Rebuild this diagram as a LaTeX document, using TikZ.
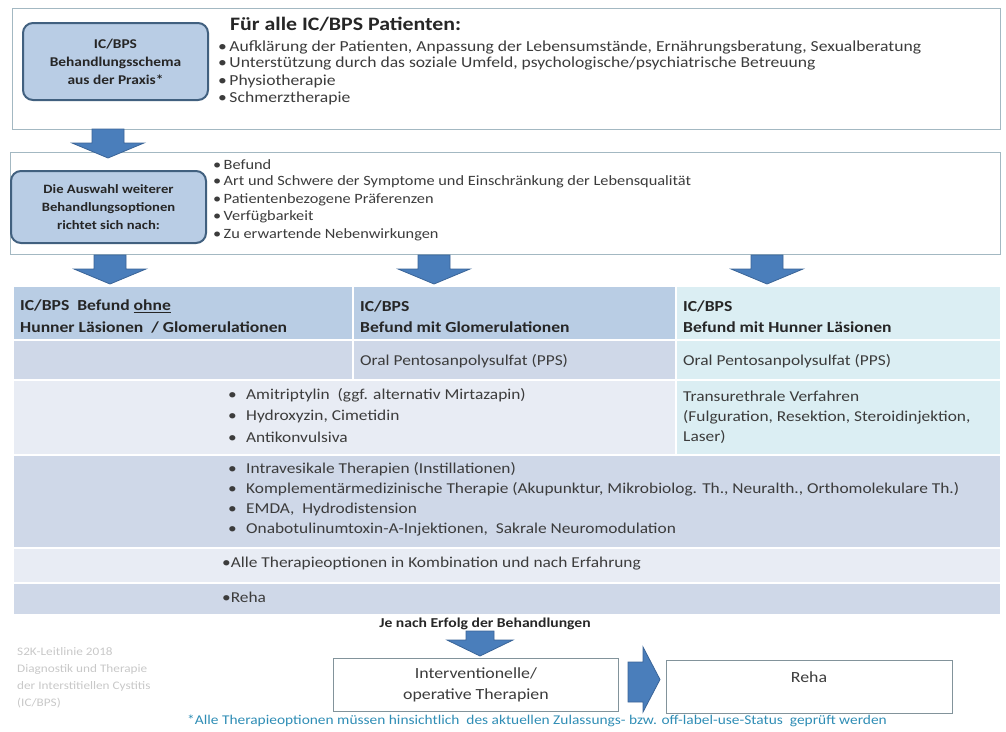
\documentclass[tikz,border=0pt]{standalone}
\usepackage{fontspec}
\setmainfont{Carlito}[FakeStretch=1.15]
\definecolor{frame}{HTML}{A3B8C2}
\definecolor{rbfill}{HTML}{B9CDE5}
\definecolor{rbdraw}{HTML}{41607F}
\definecolor{arrowfill}{HTML}{4A7EBB}
\definecolor{arrowdraw}{HTML}{3A6497}
\definecolor{hdrA}{HTML}{B9CDE4}
\definecolor{hdrB}{HTML}{DBEEF3}
\definecolor{rowD}{HTML}{CFD8E8}
\definecolor{rowL}{HTML}{E8ECF4}
\definecolor{txt}{HTML}{3C3C3C}
\definecolor{foot}{HTML}{2F8DB5}
\definecolor{wm}{HTML}{C8C8C8}
\newcommand{\fsz}[1]{\fontsize{#1}{#1}\selectfont}
\tikzset{
  outerbox/.style={draw=frame, line width=1.2pt, fill=white, inner sep=0pt, anchor=north west},
  roundbox/.style={draw=rbdraw, line width=2pt, fill=rbfill, rounded corners=10pt, inner sep=0pt, anchor=north west},
  plainbox/.style={draw=frame!80!black, line width=0.8pt, fill=white, inner sep=0pt, anchor=north west},
  cell/.style={draw=white, line width=1.5pt, inner sep=0pt, anchor=north west},
  lbl/.style={anchor=west, inner sep=0pt, text=txt, font=\fsz{15.1}},
  lblT/.style={lbl, font=\fsz{15.3}},
  lblA/.style={lbl, font=\fsz{14.2}},
  boldlbl/.style={lbl, font=\fsz{15.3}\bfseries, text=black!85},
  rbtext/.style={align=center, inner sep=0pt, text=black!85},
  blockarrow/.style={fill=arrowfill, draw=arrowdraw, line width=0.8pt},
}
\newcommand{\bl}{\makebox[18pt][l]{\textbullet}}
\begin{document}
\begin{tikzpicture}[x=1pt,y=-1pt]
\useasboundingbox (0,0) rectangle (1006,731);
% ---------- box 1
\node[outerbox, minimum width=988pt, minimum height=121pt] (box1) at (12,8) {};
\node[roundbox, minimum width=185pt, minimum height=77pt] (rb1) at (22,22) {};
\node[rbtext, font=\fontsize{13.4}{18}\selectfont\bfseries] (rb1t) at (rb1.center) {IC/BPS\\Behandlungsschema\\aus der Praxis*};
\node[anchor=west, inner sep=0pt, font=\fsz{19}\bfseries, text=black!85] (t1) at (230,24) {Für alle IC/BPS Patienten:};
\node[lblT] (b11) at (218,47) {\textbullet\,Aufklärung der Patienten, Anpassung der Lebensumstände, Ernährungsberatung, Sexualberatung};
\node[lblT] (b12) at (218,64) {\textbullet\,Unterstützung durch das soziale Umfeld, psychologische/psychiatrische Betreuung};
\node[lblT] (b13) at (218,81) {\textbullet\,Physiotherapie};
\node[lblT] (b14) at (218,98) {\textbullet\,Schmerztherapie};
% ---------- box 2
\node[outerbox, minimum width=990pt, minimum height=102pt] (box2) at (10,152) {};
\node[roundbox, minimum width=195pt, minimum height=72pt] (rb2) at (10,170) {};
\node[rbtext, font=\fontsize{12.7}{18}\selectfont\bfseries] (rb2t) at (rb2.center) {Die Auswahl weiterer\\Behandlungsoptionen\\richtet sich nach:};
\node[lblA] (b21) at (213,165) {\textbullet\,Befund};
\node[lblA] (b22) at (213,182) {\textbullet\,Art und Schwere der Symptome und Einschränkung der Lebensqualität};
\node[lblA] (b23) at (213,200) {\textbullet\,Patientenbezogene Präferenzen};
\node[lblA] (b24) at (213,217) {\textbullet\,Verfügbarkeit};
\node[lblA] (b25) at (213,235) {\textbullet\,Zu erwartende Nebenwirkungen};
% ---------- arrows
\foreach \cx/\ty in {108/129, 110/255, 434/255, 767/255}{
  \draw[blockarrow] (\cx-16,\ty) -- (\cx+16,\ty) -- (\cx+16,\ty+14) -- (\cx+36,\ty+14)
     -- (\cx,\ty+29) -- (\cx-36,\ty+14) -- (\cx-16,\ty+14) -- cycle;
}
% ---------- table
\node[cell, fill=hdrA, minimum width=340pt, minimum height=54pt] (h1) at (12,285) {};
\node[cell, fill=hdrA, minimum width=323pt, minimum height=54pt] (h2) at (352,285) {};
\node[cell, fill=hdrB, minimum width=325pt, minimum height=54pt] (h3) at (675,285) {};
\node[cell, fill=rowD, minimum width=340pt, minimum height=40pt] (r21) at (12,339) {};
\node[cell, fill=rowD, minimum width=323pt, minimum height=40pt] (r22) at (352,339) {};
\node[cell, fill=hdrB, minimum width=325pt, minimum height=40pt] (r23) at (675,339) {};
\node[cell, fill=rowL, minimum width=663pt, minimum height=75pt] (r31) at (12,379) {};
\node[cell, fill=hdrB, minimum width=325pt, minimum height=75pt] (r33) at (675,379) {};
\node[cell, fill=rowD, minimum width=988pt, minimum height=93pt] (r4) at (12,454) {};
\node[cell, fill=rowL, minimum width=988pt, minimum height=35pt] (r5) at (12,547) {};
\node[cell, fill=rowD, minimum width=988pt, minimum height=32pt] (r6) at (12,582) {};
% header texts
\node[boldlbl] (h1a) at (20,306) {IC/BPS\ \ Befund \underline{ohne}};
\node[boldlbl] (h1b) at (20,327) {Hunner Läsionen\ \ / Glomerulationen};
\node[boldlbl] (h2a) at (360,306) {IC/BPS};
\node[boldlbl] (h2b) at (360,327) {Befund mit Glomerulationen};
\node[boldlbl] (h3a) at (683,306) {IC/BPS};
\node[boldlbl] (h3b) at (683,327) {Befund mit Hunner Läsionen};
\node[lbl] (pps2) at (360,361) {Oral Pentosanpolysulfat (PPS)};
\node[lbl] (pps3) at (683,361) {Oral Pentosanpolysulfat (PPS)};
\node[lbl] (a1) at (228,395) {\bl Amitriptylin\ \ (ggf. alternativ Mirtazapin)};
\node[lbl] (a2) at (228,416) {\bl Hydroxyzin, Cimetidin};
\node[lbl] (a3) at (228,437) {\bl Antikonvulsiva};
\node[lbl] (c1) at (683,396) {Transurethrale Verfahren};
\node[lbl] (c2) at (683,417) {(Fulguration, Resektion, Steroidinjektion,};
\node[lbl] (c3) at (683,437) {Laser)};
\node[lbl] (d1) at (228,469) {\bl Intravesikale Therapien (Instillationen)};
\node[lbl] (d2) at (228,489) {\bl Komplementärmedizinische Therapie (Akupunktur, Mikrobiolog. Th., Neuralth., Orthomolekulare Th.)};
\node[lbl] (d3) at (228,509) {\bl EMDA,\ \ Hydrodistension};
\node[lbl] (d4) at (228,530) {\bl Onabotulinumtoxin-A-Injektionen,\ \ Sakrale Neuromodulation};
\node[lbl] (e1) at (222,564) {\textbullet Alle Therapieoptionen in Kombination und nach Erfahrung};
\node[lbl] (f1) at (222,597) {\textbullet Reha};
% ---------- bottom
\node[inner sep=0pt, font=\fsz{13.6}\bfseries, text=black!85] (je) at (485,624) {Je nach Erfolg der Behandlungen};
\draw[blockarrow] (466,631) -- (494,631) -- (494,640) -- (513,640) -- (480,656) -- (447,640) -- (466,640) -- cycle;
\node[plainbox, minimum width=285pt, minimum height=53pt] (iv) at (333,658) {};
\node[align=center, inner sep=0pt, text=txt, font=\fontsize{15.5}{21}\selectfont] (ivt) at (iv.center) {Interventionelle/\\operative Therapien};
\node[plainbox, minimum width=286pt, minimum height=53pt] (reha) at (666,660) {};
\node[inner sep=0pt, text=txt, font=\fsz{15.5}] (rehat) at (809,677) {Reha};
\draw[blockarrow] (628,662) -- (643,662) -- (643,647) -- (660,679.5) -- (643,712) -- (643,702) -- (628,702) -- cycle;
\node[anchor=west, inner sep=0pt, text=foot, font=\fsz{13.4}] (fn) at (187,721) {*Alle Therapieoptionen müssen hinsichtlich\ \ des aktuellen Zulassungs- bzw. off-label-use-Status\ \ geprüft werden};
\node[anchor=north west, align=left, inner sep=0pt, text=wm, font=\fontsize{11.5}{17}\selectfont] (wmk) at (17,647) {S2K-Leitlinie 2018\\Diagnostik und Therapie\\der Interstitiellen Cystitis\\(IC/BPS)};
\end{tikzpicture}
\end{document}
